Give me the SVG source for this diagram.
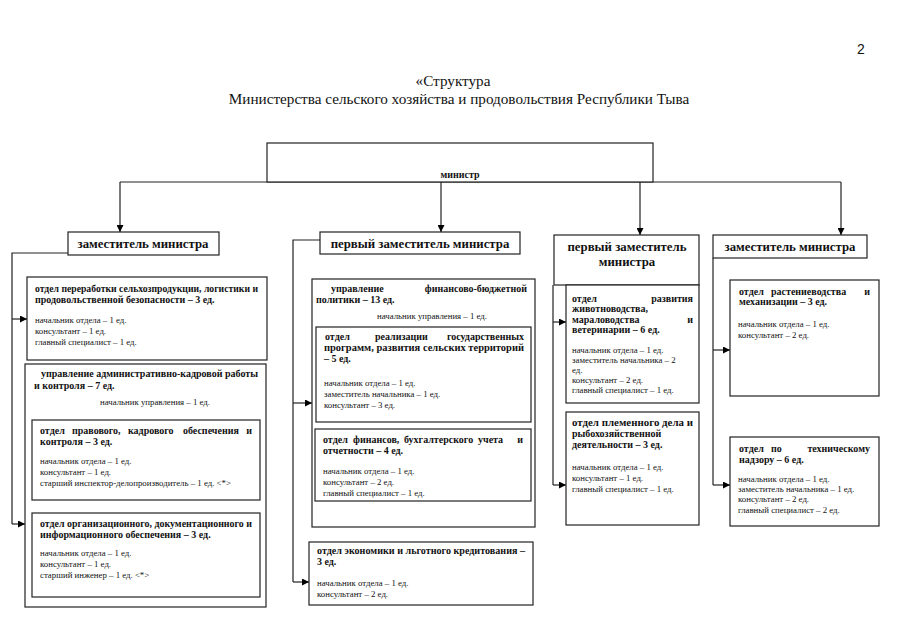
<svg xmlns="http://www.w3.org/2000/svg" width="905" height="639" viewBox="0 0 905 639">
<defs>
<marker id="ah" viewBox="0 0 10 10" refX="10" refY="5" markerWidth="7" markerHeight="7" markerUnits="userSpaceOnUse" orient="auto">
<path d="M0,0 L10,5 L0,10 z" fill="#000"/>
</marker>
<style>
text{font-family:"Liberation Serif","Times New Roman",serif;fill:#111}
.t{font-size:15.2px}
.pg{font-family:"Liberation Sans",Arial,sans-serif;font-size:14px}
.h{font-size:12.8px;font-weight:bold}
.m{font-size:10px;font-weight:bold}
.b{font-size:10px;font-weight:bold}
.r{font-size:8.8px}
.e{text-anchor:end}
.box{fill:#fff;stroke:#222;stroke-width:1.2}
.ln{fill:none;stroke:#222;stroke-width:1.2}
</style>
</defs>
<rect width="905" height="639" fill="#fff"/>
<text class="pg" x="857" y="54">2</text>
<text class="t" x="453" y="86" text-anchor="middle">«Структура</text>
<text class="t" x="459" y="104" text-anchor="middle">Министерства сельского хозяйства и продовольствия Республики Тыва</text>

<g id="connectors">
<path class="ln" d="M120,182 H841"/>
<path class="ln" d="M120,182 V232" marker-end="url(#ah)"/>
<path class="ln" d="M441,182 V232" marker-end="url(#ah)"/>
<path class="ln" d="M640,182 V235" marker-end="url(#ah)"/>
<path class="ln" d="M841,182 V235" marker-end="url(#ah)"/>
<path class="ln" d="M68,253 H12 V524"/>
<path class="ln" d="M12,319 H27" marker-end="url(#ah)"/>
<path class="ln" d="M12,524 H25" marker-end="url(#ah)"/>
<path class="ln" d="M320,240 H293 V582"/>
<path class="ln" d="M293,403 H312" marker-end="url(#ah)"/>
<path class="ln" d="M293,582 H309" marker-end="url(#ah)"/>
<path class="ln" d="M553,285 V485"/>
<path class="ln" d="M553,322 H566" marker-end="url(#ah)"/>
<path class="ln" d="M553,485 H566" marker-end="url(#ah)"/>
<path class="ln" d="M713,258 V485"/>
<path class="ln" d="M713,350 H730" marker-end="url(#ah)"/>
<path class="ln" d="M713,485 H730" marker-end="url(#ah)"/>
</g>

<g id="minister">
<rect class="box" x="267" y="143" width="386" height="39"/>
<text class="m" x="460" y="178" text-anchor="middle">министр</text>
</g>

<g id="deputy1">
<rect class="box" x="68" y="232" width="151" height="23"/>
<text class="h" x="143" y="248" text-anchor="middle">заместитель министра</text>
</g>

<g id="dept-processing">
<rect class="box" x="27" y="277" width="240" height="83"/>
<text class="b" x="35" y="292" textLength="223" lengthAdjust="spacingAndGlyphs">отдел переработки сельхозпродукции, логистики и</text>
<text class="b" x="35" y="303">продовольственной безопасности – 3 ед.</text>
<text class="r" x="35" y="323">начальник отдела – 1 ед.</text>
<text class="r" x="35" y="334">консультант – 1 ед.</text>
<text class="r" x="35" y="345">главный специалист – 1 ед.</text>
</g>

<g id="admin-directorate">
<rect class="box" x="25" y="364" width="241" height="243"/>
<text class="b" x="41" y="377" textLength="217" lengthAdjust="spacingAndGlyphs">управление административно-кадровой работы</text>
<text class="b" x="34" y="389">и контроля – 7 ед.</text>
<text class="r" x="100" y="405">начальник управления – 1 ед.</text>
</g>

<g id="dept-legal">
<rect class="box" x="32" y="420" width="228" height="80"/>
<text class="b" y="434"><tspan x="40">отдел</tspan><tspan x="72">правового,</tspan><tspan x="128">кадрового</tspan><tspan x="183">обеспечения</tspan></text>
<text class="b e" x="252" y="434">и</text>
<text class="b" x="40" y="445">контроля – 3 ед.</text>
<text class="r" x="40" y="464">начальник отдела – 1 ед.</text>
<text class="r" x="40" y="475">консультант – 1 ед.</text>
<text class="r" x="40" y="486">старший инспектор-делопроизводитель – 1 ед. &lt;*&gt;</text>
</g>

<g id="dept-org">
<rect class="box" x="32" y="513" width="228" height="84"/>
<text class="b" x="40" y="527" textLength="212" lengthAdjust="spacingAndGlyphs">отдел организационного, документационного и</text>
<text class="b" x="40" y="538">информационного обеспечения – 3 ед.</text>
<text class="r" x="40" y="556">начальник отдела – 1 ед.</text>
<text class="r" x="40" y="567">консультант – 1 ед.</text>
<text class="r" x="40" y="578">старший инженер – 1 ед. &lt;*&gt;</text>
</g>

<g id="first-deputy1">
<rect class="box" x="320" y="232" width="200" height="22"/>
<text class="h" x="420" y="248" text-anchor="middle">первый заместитель министра</text>
</g>

<g id="finance-directorate">
<rect class="box" x="312" y="279" width="223" height="248"/>
<text class="b" x="331" y="292">управление</text>
<text class="b e" x="527" y="292">финансово-бюджетной</text>
<text class="b" x="316" y="303">политики – 13 ед.</text>
<text class="r" x="377" y="319">начальник управления – 1 ед.</text>
</g>

<g id="dept-programs">
<rect class="box" x="316" y="327" width="215" height="95"/>
<text class="b" y="340"><tspan x="325">отдел</tspan><tspan x="375">реализации</tspan></text>
<text class="b e" x="524" y="340">государственных</text>
<text class="b" x="324" y="351" textLength="200" lengthAdjust="spacingAndGlyphs">программ, развития сельских территорий</text>
<text class="b" x="324" y="362">– 5 ед.</text>
<text class="r" x="324" y="386">начальник отдела – 1 ед.</text>
<text class="r" x="324" y="397">заместитель начальника – 1 ед.</text>
<text class="r" x="324" y="408">консультант – 3 ед.</text>
</g>

<g id="dept-accounting">
<rect class="box" x="315" y="429" width="216" height="72"/>
<text class="b" y="443"><tspan x="323">отдел</tspan><tspan x="353">финансов,</tspan><tspan x="404">бухгалтерского</tspan><tspan x="478">учета</tspan></text>
<text class="b e" x="523" y="443">и</text>
<text class="b" x="323" y="454">отчетности – 4 ед.</text>
<text class="r" x="323" y="474">начальник отдела – 1 ед.</text>
<text class="r" x="323" y="485">консультант – 2 ед.</text>
<text class="r" x="323" y="496">главный специалист – 1 ед.</text>
</g>

<g id="dept-economics">
<rect class="box" x="309" y="542" width="224" height="63"/>
<text class="b" x="317" y="554" textLength="208" lengthAdjust="spacingAndGlyphs">отдел экономики и льготного кредитования –</text>
<text class="b" x="317" y="565">3 ед.</text>
<text class="r" x="317" y="586">начальник отдела – 1 ед.</text>
<text class="r" x="317" y="597">консультант – 2 ед.</text>
</g>

<g id="first-deputy2">
<rect class="box" x="554" y="235" width="145" height="50"/>
<text class="h" x="627" y="251" text-anchor="middle">первый заместитель</text>
<text class="h" x="627" y="266" text-anchor="middle">министра</text>
</g>

<g id="dept-livestock">
<rect class="box" x="566" y="285" width="133" height="118"/>
<text class="b" x="572" y="302">отдел</text>
<text class="b e" x="693" y="302">развития</text>
<text class="b" x="572" y="312">животноводства,</text>
<text class="b" x="572" y="323">мараловодства</text>
<text class="b e" x="693" y="323">и</text>
<text class="b" x="572" y="333">ветеринарии – 6 ед.</text>
<text class="r" x="572" y="353">начальник отдела – 1 ед.</text>
<text class="r" x="572" y="363">заместитель начальника – 2</text>
<text class="r" x="572" y="373">ед.</text>
<text class="r" x="572" y="383">консультант – 2 ед.</text>
<text class="r" x="572" y="393">главный специалист – 1 ед.</text>
</g>

<g id="dept-breeding">
<rect class="box" x="566" y="412" width="133" height="113"/>
<text class="b" x="572" y="426" textLength="121" lengthAdjust="spacingAndGlyphs">отдел племенного дела и</text>
<text class="b" x="572" y="437">рыбохозяйственной</text>
<text class="b" x="572" y="448">деятельности – 3 ед.</text>
<text class="r" x="572" y="470">начальник отдела – 1 ед.</text>
<text class="r" x="572" y="481">консультант – 1 ед.</text>
<text class="r" x="572" y="492">главный специалист – 1 ед.</text>
</g>

<g id="deputy2">
<rect class="box" x="713" y="235" width="154" height="23"/>
<text class="h" x="790" y="251" text-anchor="middle">заместитель министра</text>
</g>

<g id="dept-crops">
<rect class="box" x="730" y="280" width="149" height="116"/>
<text class="b" y="295"><tspan x="739">отдел</tspan><tspan x="771">растениеводства</tspan></text>
<text class="b e" x="870" y="295">и</text>
<text class="b" x="739" y="305">механизации – 3 ед.</text>
<text class="r" x="738" y="327">начальник отдела – 1 ед.</text>
<text class="r" x="738" y="338">консультант – 2 ед.</text>
</g>

<g id="dept-tech">
<rect class="box" x="730" y="437" width="149" height="89"/>
<text class="b" y="452"><tspan x="739">отдел</tspan><tspan x="771">по</tspan></text>
<text class="b e" x="870" y="452">техническому</text>
<text class="b" x="739" y="463">надзору – 6 ед.</text>
<text class="r" x="738" y="482">начальник отдела – 1 ед.</text>
<text class="r" x="738" y="492">заместитель начальника – 1 ед.</text>
<text class="r" x="738" y="502">консультант – 2 ед.</text>
<text class="r" x="738" y="513">главный специалист – 2 ед.</text>
</g>
</svg>
